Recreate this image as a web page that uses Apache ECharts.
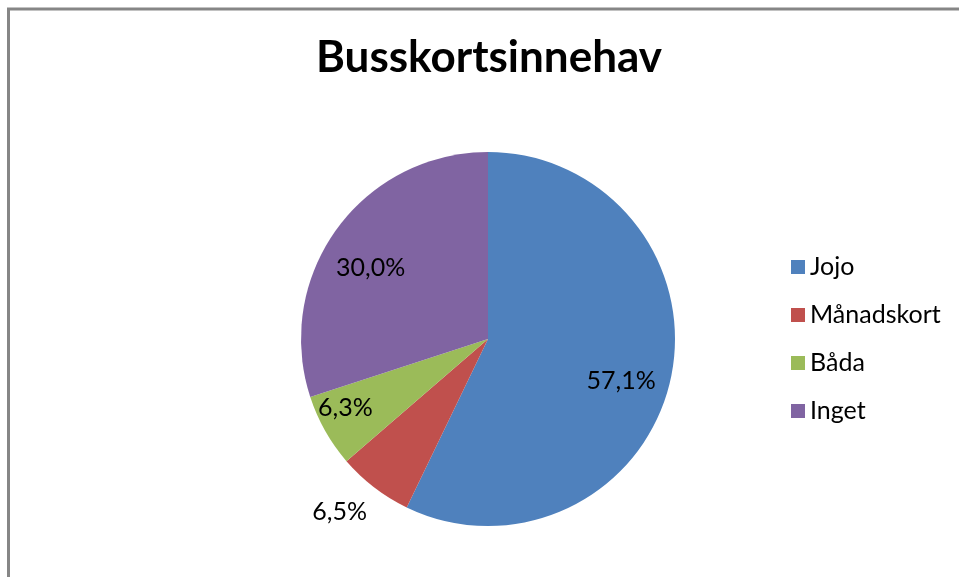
<!DOCTYPE html>
<html>
<head>
<meta charset="utf-8">
<script src="https://cdn.jsdelivr.net/npm/echarts@6/dist/echarts.min.js"></script>
<style>
  html, body { margin: 0; padding: 0; background: #fff; }
  #chart { width: 959px; height: 577px; }
</style>
</head>
<body>
<div id="chart"></div>
<script>
const TITLE = 'Busskortsinnehav';
const categories = ['Jojo', 'Månadskort', 'Båda', 'Inget'];
const values = [57.1, 6.5, 6.3, 30.0];
const colors = ['#4F81BD', '#C0504D', '#9BBB59', '#8064A2'];
// label placement tweak per slice: radial scale and small turn (degrees) from where ECharts puts it
const labelScale = [1.445, 1.0, 1.64, 1.42];
const labelTurn = [-4.5, 3.4, -3.7, 4.9];

const FONT = 'Lato';
const CX = 488, CY = 339;

const chart = echarts.init(document.getElementById('chart'));

function fmt(v) {
  return v.toFixed(1).replace('.', ',') + '%';
}

const data = categories.map((name, i) => {
  const item = { name: name, value: values[i], itemStyle: { color: colors[i] } };
  if (i === 1) {
    item.label = { position: 'outside' };
    item.labelLine = { show: false, length: 20, length2: 0 };
  }
  return item;
});

const option = {
  animation: false,
  title: {
    text: TITLE,
    left: 484,
    top: 31,
    textAlign: 'center',
    textStyle: { fontFamily: FONT, fontWeight: 'bold', fontSize: 44, color: '#000' }
  },
  legend: {
    orient: 'vertical',
    left: 786,
    top: 249,
    icon: 'rect',
    itemWidth: 14,
    itemHeight: 14,
    itemGap: 22,
    data: categories,
    textStyle: { fontFamily: FONT, fontSize: 25, color: '#000', lineHeight: 26 }
  },
  graphic: [{
    type: 'polyline',
    silent: true,
    shape: { points: [[8.5, 2000], [8.5, 9], [2000, 9]] },
    style: { fill: null, stroke: '#868686', lineWidth: 3 }
  }],
  series: [{
    type: 'pie',
    center: [CX, CY],
    radius: 187,
    startAngle: 90,
    clockwise: true,
    avoidLabelOverlap: false,
    data: data,
    label: {
      show: true,
      position: 'inside',
      formatter: p => fmt(p.value),
      fontFamily: FONT,
      fontSize: 25,
      color: '#000'
    },
    labelLine: { show: false },
    labelLayout: function (p) {
      const r = p.labelRect;
      const vx = r.x + r.width / 2 - CX, vy = r.y + r.height / 2 - CY;
      const k = labelScale[p.dataIndex];
      const a = -labelTurn[p.dataIndex] * Math.PI / 180; // screen y points down
      const nx = k * (vx * Math.cos(a) - vy * Math.sin(a));
      const ny = k * (vx * Math.sin(a) + vy * Math.cos(a));
      return { dx: nx - vx, dy: ny - vy };
    },
    emphasis: { disabled: true }
  }]
};

chart.setOption(option);
</script>
</body>
</html>
